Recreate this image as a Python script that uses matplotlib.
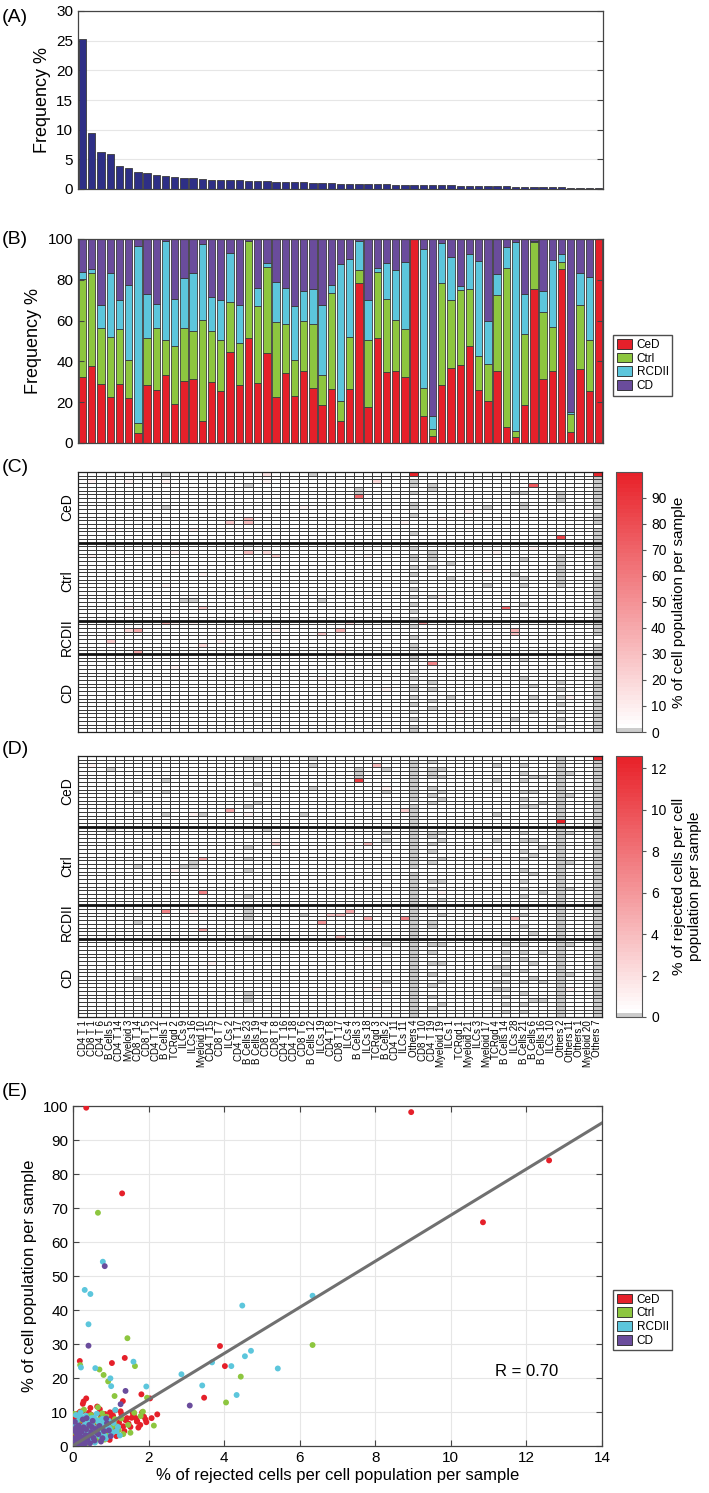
import numpy as np
import matplotlib
matplotlib.use("Agg")
import matplotlib.pyplot as plt
from matplotlib.colors import ListedColormap, Normalize
from matplotlib.patches import Patch

plt.rcParams['font.family'] = ['Liberation Sans', 'DejaVu Sans']

# cell populations, ordered by overall frequency
populations = ['CD4 T 1', 'CD8 T 1', 'CD4 T 6', 'B Cells 5', 'CD4 T 14', 'Myeloid 3', 'CD8 T 14',
               'CD8 T 5', 'CD4 T 12', 'B Cells 1', 'TCRgd 2', 'ILCs 9', 'ILCs 16', 'Myeloid 10',
               'CD4 T 15', 'CD8 T 7', 'ILCs 2', 'CD4 T 17', 'B Cells 23', 'B Cells 19', 'CD8 T 4',
               'CD8 T 8', 'CD4 T 16', 'CD4 T 18', 'CD8 T 6', 'B Cells 12', 'ILCs 19', 'CD4 T 8',
               'CD8 T 17', 'ILCs 4', 'B Cells 3', 'ILCs 18', 'TCRgd 3', 'B Cells 2', 'CD4 T 11',
               'ILCs 11', 'Others 4', 'CD8 T 10', 'CD4 T 19', 'Myeloid 19', 'ILCs 1', 'TCRgd 1',
               'Myeloid 21', 'ILCs 3', 'Myeloid 17', 'TCRgd 4', 'B Cells 14', 'ILCs 28', 'B Cells 21',
               'B Cells 6', 'B Cells 16', 'ILCs 10', 'Others 2', 'Others 11', 'Others 1', 'Myeloid 20',
               'Others 7']

groups = ['CeD', 'Ctrl', 'RCDII', 'CD']
group_sizes = [19, 21, 9, 21]
group_colors = ['#E5202A', '#8DC63F', '#5CC6DC', '#6A4C9C']

# (A) overall frequency
freq = [25.2, 9.4, 6.3, 5.9, 3.8, 3.5, 2.9, 2.7, 2.4, 2.2, 2.0, 1.9, 1.8, 1.7, 1.6, 1.55, 1.5,
        1.45, 1.4, 1.35, 1.3, 1.25, 1.2, 1.15, 1.1, 1.05, 1.0, 0.95, 0.9, 0.88, 0.85, 0.82, 0.8,
        0.77, 0.74, 0.72, 0.7, 0.68, 0.65, 0.62, 0.6, 0.57, 0.55, 0.52, 0.5, 0.47, 0.45, 0.42,
        0.4, 0.37, 0.34, 0.31, 0.28, 0.24, 0.2, 0.15, 0.1]

# (B) share of each population per disease group
ced_share = [32.3, 37.7, 28.9, 22.7, 28.9, 22.3, 4.9, 28.5, 25.8, 33.4, 19.2, 30.5, 31.3, 10.9,
             29.7, 25.3, 44.5, 28.4, 51.7, 29.4, 43.9, 22.7, 34.1, 23.2, 35.4, 26.9, 18.6, 26.4,
             10.6, 26.4, 78.6, 17.5, 51.4, 34.9, 35.1, 32.5, 100.0, 13.4, 3.6, 28.5, 36.7, 38.3,
             47.6, 25.8, 20.7, 35.4, 7.7, 3.1, 18.8, 75.4, 31.6, 35.1, 85.5, 5.2, 36.4, 25.6, 100.0]
ctrl_share = [48.1, 45.5, 27.4, 29.2, 26.9, 18.3, 4.7, 23.0, 30.5, 17.0, 28.3, 26.1, 23.7, 49.3,
              25.4, 25.1, 24.8, 20.5, 47.5, 37.8, 42.6, 36.5, 24.3, 17.6, 24.6, 31.5, 14.7, 47.0,
              9.8, 25.5, 6.2, 33.1, 32.6, 35.7, 25.1, 23.6, 0.0, 13.8, 3.3, 49.8, 33.4, 36.6,
              27.9, 16.8, 18.0, 37.0, 77.9, 2.9, 34.5, 23.0, 32.8, 22.0, 3.4, 9.0, 31.3, 25.0, 0.0]
rcdii_share = [3.6, 2.1, 11.2, 31.3, 14.5, 36.9, 87.1, 21.7, 11.6, 48.6, 23.3, 24.2, 28.5, 37.2,
               16.5, 19.7, 23.7, 18.8, 0.0, 8.7, 1.6, 19.9, 17.5, 26.4, 14.7, 17.3, 34.4, 4.1,
               67.4, 38.1, 14.2, 19.4, 2.0, 17.7, 24.6, 32.5, 0.0, 67.8, 6.5, 19.9, 21.1, 2.3,
               17.3, 46.6, 21.3, 10.3, 10.5, 92.7, 19.6, 0.8, 10.2, 32.5, 3.9, 1.0, 15.5, 30.6, 0.0]
cd_share = [16.0, 14.7, 32.5, 16.8, 29.7, 22.5, 3.3, 26.8, 32.1, 1.0, 29.2, 19.2, 16.5, 2.6,
            28.4, 29.9, 7.0, 32.3, 0.8, 24.1, 11.9, 20.9, 24.1, 32.8, 25.3, 24.3, 32.3, 22.5,
            12.2, 10.0, 1.0, 30.0, 14.0, 11.7, 15.2, 11.4, 0.0, 5.0, 86.6, 1.8, 8.8, 22.8,
            7.2, 10.8, 40.0, 17.3, 3.9, 1.3, 27.1, 0.8, 25.4, 10.4, 7.2, 84.8, 16.8, 18.8, 0.0]

# (C) % of cell population per sample: (row, col, value); other cells near zero
pop_base = 2.0
pop_light = [(2, 1), (2, 5), (2, 9), (2, 20), (15, 3), (15, 12), (9, 24), (22, 1), (21, 10),
             (27, 13), (30, 9), (33, 18), (36, 5), (40, 10), (40, 12), (45, 15), (55, 26),
             (52, 10), (42, 21), (37, 19), (13, 35), (12, 39), (33, 39), (21, 45), (20, 49),
             (60, 53), (22, 31), (48, 28), (10, 42), (26, 44), (58, 33), (64, 41)]
pop_hot = [(13, 16, 25), (12, 18, 30), (13, 18, 30), (21, 18, 30), (21, 20, 20), (22, 21, 25),
           (36, 13, 25), (40, 9, 35), (42, 6, 40), (42, 5, 20), (45, 3, 25), (48, 6, 40),
           (46, 13, 20), (43, 26, 25), (42, 28, 35), (0, 20, 15), (0, 36, 99.5), (0, 56, 98.2),
           (3, 49, 74.5), (6, 30, 65.8), (17, 52, 84.0), (36, 46, 68.6), (2, 32, 20),
           (40, 37, 45), (40, 29, 20), (42, 47, 35), (43, 47, 30), (51, 38, 54.2)]
pop_gray = {3: [19], 9: [0, 9], 11: [34], 12: [34], 18: [3, 19], 25: [0], 26: [34], 30: [4, 5],
            36: [2, 3, 5, 8, 9, 11, 16, 20, 22, 23, 25, 27, 29, 31, 33, 35, 37, 39, 41, 44, 46, 47,
                 49, 50, 53, 55, 57, 58, 60, 62, 64, 66, 68, 69],
            38: [3, 4, 21, 22, 23, 25, 33, 56, 58, 61, 63], 40: [24, 28, 60], 44: [9, 30],
            47: [5, 27, 66], 48: [5, 8, 9, 23, 28, 30, 35, 50, 55], 49: [57, 60, 64],
            52: [5, 6, 7, 22, 23, 24, 25, 26, 27, 28, 29, 30, 56, 58, 60, 62, 64, 66, 68],
            56: [r for r in range(1, 70) if r not in (10, 14, 26, 44, 45)]}

# (D) % of rejected cells per cell population per sample
rej_base = 0.3
rej_light = [(2, 1), (15, 12), (22, 21), (30, 10), (14, 35), (36, 39), (23, 29), (41, 12),
             (42, 43), (51, 31), (62, 32), (62, 53), (15, 18), (8, 33), (27, 44), (55, 14)]
rej_hot = [(6, 30, 11.0), (17, 52, 12.6), (0, 56, 12.4), (2, 32, 4.0), (14, 35, 3.0),
           (23, 31, 4.0), (42, 28, 4.0), (41, 29, 5.0), (43, 31, 5.0), (43, 35, 7.0),
           (43, 47, 4.0), (48, 28, 4.0), (14, 16, 5.0), (27, 13, 5.0), (36, 13, 7.0),
           (41, 9, 7.0), (46, 13, 5.0), (44, 26, 6.0), (42, 27, 3.5), (23, 21, 3.0)]
rej_gray = {3: [3, 19], 6: [9, 29, 44, 59], 9: [6, 9, 15], 11: [29], 12: [28, 29], 13: [15],
            18: [0, 13, 24, 27, 30, 37, 40, 41, 42, 43, 48, 63, 64, 65], 19: [0, 7, 12],
            20: [19], 24: [15, 42], 25: [0, 2, 8], 30: [3, 4, 5], 33: [3, 9, 20, 22, 50, 60],
            36: [r for r in range(70) if r not in (0, 12, 30)],
            38: [1, 3, 4, 5, 8, 10, 12, 20, 21, 23, 25, 28, 33, 35, 40, 44, 45, 50, 52, 55, 58,
                 61, 64, 67],
            39: [3, 5, 9, 11, 20, 22, 27, 33, 38, 42, 50, 55, 60, 66],
            45: [2, 6, 15, 22, 56, 60, 62], 46: [50, 52, 54, 56, 58, 60, 62, 64, 66, 68],
            48: [2, 4, 6, 9, 11, 13, 20, 22, 25, 27, 30, 33, 35, 37, 40, 42, 45, 50, 52, 54, 57,
                 60, 63, 66, 68],
            49: [5, 9, 13, 22, 26, 31, 47, 55, 59, 65], 50: [5, 12, 24, 36, 52, 60, 65],
            52: [r for r in range(70) if r != 17], 53: [4, 10, 20, 28, 35, 50, 58],
            56: list(range(1, 70))}

# (E) scatter: x = % rejected, y = % of cell population
ced_x = [0.35, 8.95, 12.6, 10.85, 1.30, 3.89, 0.18, 1.37, 1.03, 4.02, 1.81, 3.47, 2.04, 0.35, 0.26,
         1.32, 2.23, 1.94, 1.67, 1.69,
         0.02, 0.05, 0.08, 0.11, 0.14, 0.17, 0.21, 0.24, 0.27, 0.31, 0.36, 0.39, 0.43, 0.48, 0.52,
         0.57, 0.61, 0.66, 0.71, 0.76, 0.82, 0.87, 0.93, 0.98, 1.04, 1.09, 1.15, 1.22, 1.28, 1.36,
         1.43, 1.52, 1.61, 1.70, 1.78, 1.88, 0.06, 0.19, 0.33, 0.46, 0.59, 0.73, 0.91, 1.12, 1.33,
         1.58, 0.28, 0.64, 1.01, 1.47,
         0.04, 0.09, 0.13, 0.23, 0.38, 0.42, 0.55, 0.68, 0.79, 0.85, 0.97, 1.06, 1.18, 1.26, 1.39,
         1.55, 1.73, 1.83, 1.92, 2.08]
ced_y = [99.5, 98.2, 84.0, 65.8, 74.3, 29.4, 25.0, 25.9, 24.4, 23.5, 15.2, 14.2, 14.0, 14.0, 12.4,
         13.2, 9.3, 7.0, 8.1, 7.2,
         2.4, 7.9, 0.8, 5.3, 9.6, 3.1, 6.7, 1.5, 10.3, 4.2, 8.1, 2.7, 6.0, 9.2, 3.6,
         7.4, 1.9, 5.7, 10.8, 4.8, 8.7, 3.3, 6.4, 9.9, 5.1, 7.8, 2.9, 6.9, 9.4, 4.4,
         8.2, 5.6, 9.1, 7.3, 6.2, 8.6, 4.9, 10.1, 6.3, 11.2, 2.1, 9.0, 7.1, 10.5, 5.8,
         9.7, 13.1, 11.6, 8.4, 6.6,
         4.1, 6.9, 3.3, 5.9, 4.6, 9.8, 5.9, 3.8, 6.6, 9.4, 1.8, 8.9, 4.8, 10.2, 7.6,
         8.3, 5.4, 9.9, 7.8, 8.2]
ctrl_x = [0.66, 1.44, 6.34, 0.19, 1.64, 0.70, 0.81, 0.93, 4.44, 1.10, 1.96, 4.05, 2.14, 0.05,
          0.03, 0.07, 0.12, 0.16, 0.22, 0.26, 0.31, 0.35, 0.41, 0.45, 0.5, 0.56, 0.62, 0.68, 0.73,
          0.79, 0.86, 0.94, 1.02, 1.11, 1.21, 1.33, 1.46, 1.62, 1.79, 1.85, 0.09, 0.29, 0.48,
          0.66, 0.88, 1.07, 0.18, 0.38, 0.58,
          0.02, 0.11, 0.2, 0.33, 0.43, 0.53, 0.6, 0.71, 0.84, 0.97, 1.16, 1.28, 1.52, 0.24, 0.4,
          0.77]
ctrl_y = [68.6, 31.7, 29.7, 23.8, 23.5, 22.5, 20.9, 19.0, 20.4, 14.7, 14.2, 12.8, 6.0, 9.4,
          9.4, 3.8, 6.1, 1.2, 7.7, 4.5, 2.6, 8.3, 5.2, 1.8, 6.8, 3.9, 7.2, 2.3, 5.9,
          4.1, 6.5, 3.2, 5.4, 7.9, 4.7, 3.5, 6.2, 9.8, 8.8, 10.1, 5.6, 10.7, 9.1,
          11.4, 8.6, 6.9, 0.6, 0.9, 1.4,
          5.1, 2.7, 9.9, 5.7, 8.8, 2.9, 4.4, 7.9, 1.9, 4.8, 5.8, 8.1, 3.9, 2.0, 6.4,
          9.6]
rcdii_x = [0.79, 0.31, 0.46, 4.48, 6.34, 0.41, 4.71, 4.55, 0.21, 1.60, 0.59, 3.68, 4.19, 5.42,
           0.99, 1.01, 2.87, 3.42, 1.94, 4.33,
           0.02, 0.06, 0.1, 0.14, 0.18, 0.23, 0.27, 0.32, 0.37, 0.41, 0.46, 0.51, 0.55, 0.6, 0.65,
           0.7, 0.75, 0.81, 0.87, 0.93, 1.0, 1.07, 1.15, 1.24, 0.08, 0.2, 0.34, 0.49, 0.63, 0.78,
           0.95, 1.12, 0.3, 0.44, 0.58, 0.72,
           0.04, 0.12, 0.16, 0.25, 0.35, 0.39, 0.48, 0.53, 0.62, 0.68, 0.74, 0.84, 0.9, 0.97,
           1.05, 1.19, 0.15, 0.29, 0.56, 0.83]
rcdii_y = [54.2, 45.9, 44.7, 41.3, 44.2, 35.8, 28.0, 26.4, 23.1, 24.8, 22.9, 24.6, 23.5, 22.8,
           19.9, 17.6, 21.1, 17.8, 17.5, 15.0,
           1.1, 4.6, 7.2, 2.9, 5.8, 8.4, 3.7, 6.5, 1.9, 7.8, 4.3, 6.1, 2.5, 5.2, 7.5,
           3.4, 6.3, 4.9, 2.2, 5.7, 3.9, 6.8, 4.4, 3.1, 9.1, 9.8, 8.9, 8.2, 9.5, 8.0,
           7.4, 10.6, 0.7, 1.5, 1.0, 2.8,
           6.4, 4.0, 8.7, 5.0, 4.7, 3.1, 7.0, 5.5, 3.6, 6.9, 4.5, 3.0, 6.4, 5.1,
           4.0, 5.6, 1.9, 2.3, 8.3, 7.1]
cd_x = [0.84, 0.41, 1.39, 3.09, 1.26,
        0.01, 0.04, 0.07, 0.1, 0.13, 0.17, 0.2, 0.24, 0.28, 0.33, 0.38, 0.43, 0.48, 0.54, 0.6,
        0.67, 0.74, 0.82, 0.9, 1.0, 0.05, 0.15, 0.26, 0.36, 0.52, 0.7, 0.88, 0.12, 0.31, 0.45,
        0.03, 0.08, 0.11, 0.16, 0.22, 0.3, 0.35, 0.41, 0.5, 0.57, 0.63, 0.78, 0.95, 0.19, 0.27]
cd_y = [52.9, 29.5, 16.2, 11.9, 12.3,
        0.4, 2.2, 0.9, 3.6, 1.5, 4.8, 2.7, 0.6, 5.5, 3.2, 1.8, 6.2, 4.1, 2.4, 5.0,
        3.5, 1.3, 4.4, 6.7, 2.9, 7.1, 6.0, 7.8, 8.2, 7.4, 5.9, 8.1, 0.3, 0.5, 0.8,
        4.5, 5.4, 2.6, 3.3, 4.2, 2.0, 4.9, 3.0, 5.6, 1.6, 3.9, 2.3, 4.6, 1.1, 1.4]
fit_slope = 6.78
fit_intercept = 0.1
r_value = 0.70

W, H = 709, 1493
fig = plt.figure(figsize=(W / 100, H / 100), dpi=100)


def box(x0, y0, x1, y1):
    # pixel box (top-left origin) -> figure fraction
    return [x0 / W, 1 - y1 / H, (x1 - x0) / W, (y1 - y0) / H]


def style_spines(ax, color='#444444'):
    for s in ax.spines.values():
        s.set_color(color)
        s.set_linewidth(0.9)


n_pop = len(populations)
xs = np.arange(1, n_pop + 1)

# ---- (A)
axA = fig.add_axes(box(78, 11, 603, 189))
axA.bar(xs, freq, width=0.8, color='#2E2F86', edgecolor='#3a3a3a', linewidth=0.6, zorder=3)
axA.set_xlim(0.5, n_pop + 0.5)
axA.set_ylim(0, 30)
axA.set_yticks(range(0, 31, 5))
axA.yaxis.grid(True, color='#e6e6e6', linewidth=0.8, zorder=0)
axA.tick_params(axis='y', direction='in', right=True, labelsize=11, length=4, color='#444444')
axA.tick_params(axis='x', bottom=False, labelbottom=False)
axA.set_ylabel('Frequency %', fontsize=13)
style_spines(axA)

# ---- (B)
axB = fig.add_axes(box(78, 239, 603, 443))
bottom = np.zeros(n_pop)
for name, vals, col in zip(groups, [ced_share, ctrl_share, rcdii_share, cd_share], group_colors):
    vals = np.array(vals)
    axB.bar(xs, vals, bottom=bottom, width=0.8, color=col, edgecolor='#3a3a3a', linewidth=0.6,
            label=name)
    bottom += vals
axB.set_xlim(0.5, n_pop + 0.5)
axB.set_ylim(0, 100)
axB.set_yticks(range(0, 101, 20))
axB.tick_params(axis='y', direction='in', right=True, labelsize=11, length=4, color='#444444')
axB.tick_params(axis='x', bottom=False, labelbottom=False)
axB.set_ylabel('Frequency %', fontsize=13)
style_spines(axB)
handles = [Patch(facecolor=c, edgecolor='#222222', linewidth=0.6, label=g)
           for g, c in zip(groups, group_colors)]
axB.legend(handles=handles, loc='center left', bbox_to_anchor=(1.008, 0.38), fontsize=8.5,
           frameon=True, fancybox=False, edgecolor='#222222', handlelength=1.3,
           handleheight=0.9, borderpad=0.3, labelspacing=0.15, handletextpad=0.4)


# ---- heatmaps
def heat_cmap():
    red = np.array([0.91, 0.13, 0.16])
    white = np.array([1.0, 1.0, 1.0])
    cols = [[0.8, 0.8, 0.8]]
    for i in range(63):
        t = i / 62
        cols.append(list(white * (1 - t) + red * t))
    return ListedColormap(cols)


def build(base, light, light_val, hot, gray):
    n_rows = sum(group_sizes)
    m = np.full((n_rows, n_pop), base)
    for r, c in light:
        m[r, c] = light_val
    for r, c, v in hot:
        m[r, c] = v
    for c, rows in gray.items():
        m[rows, c] = 0.0
    return m


def draw_heat(ax, cax, mat, vmax, ticks, label, show_x):
    n_rows = mat.shape[0]
    cmap = heat_cmap()
    norm = Normalize(vmin=0, vmax=vmax)
    mesh = ax.pcolormesh(np.arange(n_pop + 1), np.arange(n_rows + 1), mat, cmap=cmap, norm=norm,
                         edgecolors='#3c3c3c', linewidth=0.7)
    ax.set_xlim(0, n_pop)
    ax.set_ylim(n_rows, 0)
    edges = np.cumsum(group_sizes)
    for e in edges[:-1]:
        ax.axhline(e, color='#111111', linewidth=2.0)
    centers = edges - np.array(group_sizes) / 2
    ax.set_yticks(centers)
    ax.set_yticklabels(groups, rotation=90, va='center', fontsize=10)
    ax.tick_params(axis='y', length=0, pad=3)
    if show_x:
        ax.set_xticks(np.arange(n_pop) + 0.5)
        ax.set_xticklabels(populations, rotation=90, fontsize=7)
        ax.tick_params(axis='x', length=0, pad=2)
    else:
        ax.set_xticks([])
    style_spines(ax, '#222222')
    cb = fig.colorbar(mesh, cax=cax, ticks=ticks)
    cb.outline.set_edgecolor('#555555')
    cb.ax.tick_params(labelsize=10, length=3, color='#555555')
    cb.set_label(label, fontsize=11, labelpad=4)


pop_mat = build(pop_base, pop_light, 8.0, pop_hot, pop_gray)
rej_mat = build(rej_base, rej_light, 1.0, rej_hot, rej_gray)

axC = fig.add_axes(box(78, 472, 602, 732))
caxC = fig.add_axes(box(616, 472, 642, 732))
draw_heat(axC, caxC, pop_mat, 99.8, range(0, 91, 10), '% of cell population per sample', False)

axD = fig.add_axes(box(78, 756, 602, 1017))
caxD = fig.add_axes(box(616, 756, 642, 1017))
draw_heat(axD, caxD, rej_mat, 12.6, range(0, 13, 2),
          '% of rejected cells per cell\npopulation per sample', True)

# ---- (E)
axE = fig.add_axes(box(73, 1106, 602, 1446))
for name, x, y, col in zip(groups, [ced_x, ctrl_x, rcdii_x, cd_x], [ced_y, ctrl_y, rcdii_y, cd_y],
                           group_colors):
    axE.scatter(x, y, s=18, color=col, edgecolors='none', label=name, zorder=3)
line_x = np.array([0, 14])
axE.plot(line_x, fit_slope * line_x + fit_intercept, color='#707070', linewidth=2.2, zorder=4)
axE.text(12.0, 22, 'R = %.2f' % r_value, fontsize=12, ha='center', va='center')
axE.set_xlim(0, 14)
axE.set_ylim(0, 100)
axE.set_xticks(range(0, 15, 2))
axE.set_yticks(range(0, 101, 10))
axE.grid(True, color='#e6e6e6', linewidth=0.8, zorder=0)
axE.tick_params(direction='in', top=True, right=True, labelsize=11, length=4, color='#444444')
axE.set_xlabel('% of rejected cells per cell population per sample', fontsize=12, labelpad=2)
axE.set_ylabel('% of cell population per sample', fontsize=12)
style_spines(axE)
axE.legend(handles=handles, loc='center left', bbox_to_anchor=(1.01, 0.37), fontsize=8.5,
           frameon=True, fancybox=False, edgecolor='#222222', handlelength=1.3,
           handleheight=0.9, borderpad=0.3, labelspacing=0.15, handletextpad=0.4)

# panel letters
for lab, ypx in [('(A)', 18), ('(B)', 240), ('(C)', 468), ('(D)', 750), ('(E)', 1092)]:
    fig.text(2 / W, 1 - ypx / H, lab, fontsize=14, va='center', ha='left')

fig.savefig('out.png', dpi=100)
